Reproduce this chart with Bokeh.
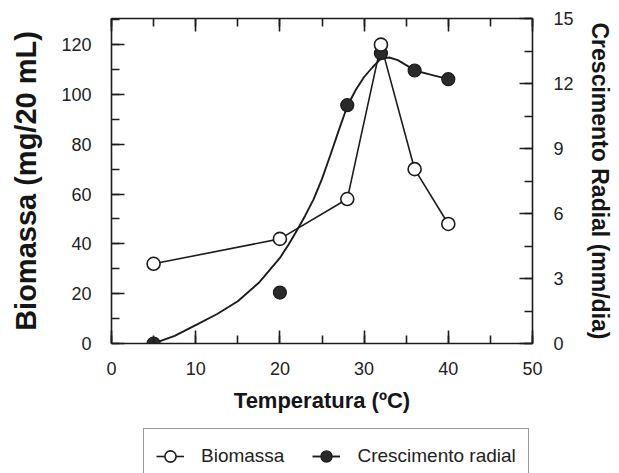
from bokeh.plotting import figure
from bokeh.layouts import column
from bokeh.models import (LinearAxis, Range1d, SingleIntervalTicker, Legend, LegendItem,
                          ColumnDataSource, CustomJSTickFormatter)
from bokeh.embed import file_html
from bokeh.resources import INLINE

# ---- data ----
temperatura = [5, 20, 28, 32, 36, 40]
biomassa = [32, 42, 58, 120, 70, 48]
crescimento = [0.0, 2.35, 11.0, 13.4, 12.6, 12.2]

# fitted curve for radial growth
curva_x = [5, 7.5, 10, 12.5, 15, 17.5, 20, 21, 22, 23, 24, 25, 26, 27, 28, 29, 30, 31,
           32, 33, 34, 35, 36, 38, 40]
curva_y = [0.0, 0.35, 0.85, 1.35, 1.95, 2.8, 3.95, 4.55, 5.2, 5.9, 6.65, 7.6, 8.7, 9.85,
           10.95, 11.7, 12.3, 12.75, 13.15, 13.2, 13.08, 12.85, 12.6, 12.4, 12.2]

serie_nomes = ["Biomassa", "Crescimento radial"]

x_ticks_interval = 10
bio_ticks_interval = 20
rad_ticks_interval = 3

FONT = "Liberation Sans"
INK = "#1c1c1c"
FILL_DARK = "#2a2a2a"

p = figure(width=619, height=427, output_backend="svg", toolbar_location=None,
           x_range=Range1d(0, 50), y_range=Range1d(0, 130.5),
           min_border_left=111, min_border_right=87, min_border_top=18, min_border_bottom=84)
p.extra_y_ranges = {"rad": Range1d(0, 15)}
p.xgrid.visible = False
p.ygrid.visible = False
p.outline_line_color = None
p.background_fill_color = "white"
p.border_fill_color = "white"

def style_axis(ax, font_size="18px"):
    ax.axis_line_color = INK
    ax.axis_line_width = 1.6
    ax.major_tick_line_color = INK
    ax.minor_tick_line_color = INK
    ax.major_tick_line_width = 1.6
    ax.minor_tick_line_width = 1.6
    ax.major_tick_in = 13
    ax.major_tick_out = 0
    ax.minor_tick_in = 8
    ax.minor_tick_out = 0
    ax.major_label_text_font = FONT
    ax.major_label_text_font_size = font_size
    ax.major_label_text_color = "#222222"
    ax.axis_label_text_font = FONT
    ax.axis_label_text_font_style = "bold"
    ax.axis_label_text_color = "#151515"

# bottom axis
xa = p.xaxis[0]
xa.ticker = SingleIntervalTicker(interval=x_ticks_interval, num_minor_ticks=2)
style_axis(xa)
xa.axis_label = "Temperatura (ºC)"
xa.axis_label_text_font_size = "22px"
xa.major_label_standoff = 18
xa.axis_label_standoff = 10

# left axis
ya = p.yaxis[0]
ya.ticker = SingleIntervalTicker(interval=bio_ticks_interval, num_minor_ticks=2)
style_axis(ya)
ya.axis_label = "Biomassa (mg/20 mL)"
ya.axis_label_text_font_size = "29px"
ya.major_label_standoff = 20
ya.axis_label_standoff = 16

# top axis (ticks only, empty labels)
top = LinearAxis(ticker=SingleIntervalTicker(interval=x_ticks_interval, num_minor_ticks=2),
                 formatter=CustomJSTickFormatter(code="return ''"))
style_axis(top)
top.major_label_standoff = 0
p.add_layout(top, "above")

# right axis
ra = LinearAxis(y_range_name="rad",
                ticker=SingleIntervalTicker(interval=rad_ticks_interval, num_minor_ticks=2))
style_axis(ra)
ra.axis_label = "Crescimento Radial (mm/dia)"
ra.axis_label_text_font_size = "23px"
ra.major_label_standoff = 21
ra.axis_label_standoff = 10
p.add_layout(ra, "right")

bio_src = ColumnDataSource(dict(x=temperatura, y=biomassa))
rad_src = ColumnDataSource(dict(x=temperatura, y=crescimento))
cur_src = ColumnDataSource(dict(x=curva_x, y=curva_y))

bio_style = dict(line_color=INK, line_width=1.6)
cur_style = dict(line_color=INK, line_width=1.9, line_join="round")
bio_mk = dict(size=13, fill_color="white", line_color=INK, line_width=1.6)
rad_mk = dict(size=13, fill_color=FILL_DARK, line_color="#1a1a1a", line_width=1.2)

p.line("x", "y", source=bio_src, **bio_style)
p.line("x", "y", source=cur_src, y_range_name="rad", **cur_style)
p.scatter("x", "y", source=rad_src, y_range_name="rad", **rad_mk)
p.scatter("x", "y", source=bio_src, **bio_mk)

# ---- legend strip below the chart (its frame aligns with the chart's frame) ----
lf = figure(width=619, height=46, output_backend="svg", toolbar_location=None,
            x_range=Range1d(-100, -99), y_range=Range1d(-100, -99),
            x_axis_type=None, y_axis_type=None,
            min_border_left=0, min_border_right=0, min_border_top=0, min_border_bottom=0)
lf.xgrid.visible = False
lf.ygrid.visible = False
lf.outline_line_color = None
lf.background_fill_color = "white"
lf.border_fill_color = "white"

# same series, outside this strip's view: only their legend glyphs show
l1 = lf.line("x", "y", source=bio_src, **bio_style)
m1 = lf.scatter("x", "y", source=bio_src, **bio_mk)
l2 = lf.line("x", "y", source=cur_src, **cur_style)
m2 = lf.scatter("x", "y", source=rad_src, **rad_mk)

legend = Legend(items=[LegendItem(label=serie_nomes[0], renderers=[l1, m1]),
                       LegendItem(label=serie_nomes[1], renderers=[l2, m2])],
                orientation="horizontal", location=(32, -11),
                glyph_width=28, glyph_height=30, label_standoff=17, spacing=28,
                padding=12, margin=0,
                label_text_font=FONT, label_text_font_size="19px", label_text_color="#222222",
                border_line_color="#333333", border_line_width=1.3,
                background_fill_color="white", background_fill_alpha=1.0)
lf.add_layout(legend, "center")

layout = column(p, lf, spacing=0)
open("out.html", "w").write(file_html(layout, INLINE))
